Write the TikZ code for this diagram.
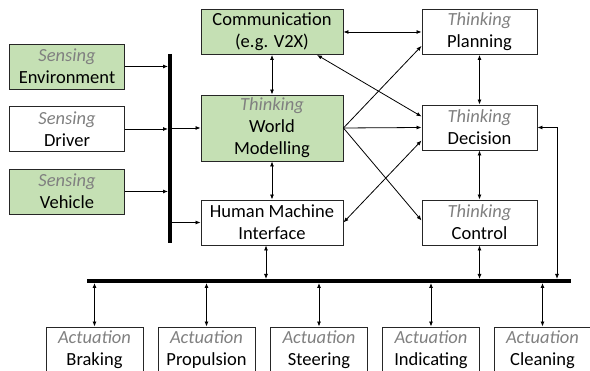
\documentclass[tikz,border=0pt]{standalone}
\usepackage{fontspec}
\setmainfont{Carlito}
\usetikzlibrary{arrows.meta,positioning}
\definecolor{boxgreen}{RGB}{197,224,180}
\definecolor{labelgray}{RGB}{128,128,128}
\newcommand{\kind}[1]{{\color{labelgray}\itshape #1}}
\tikzset{
  blk/.style={draw=black!85, line width=0.9pt, align=center, inner sep=0pt,
    font=\fontsize{18.5}{22}\selectfont},
  sens/.style={blk, minimum width=115pt, minimum height=45pt},
  wide/.style={blk, minimum width=142pt, minimum height=45pt},
  act/.style={blk, minimum width=97pt, minimum height=45pt},
  green/.style={fill=boxgreen},
  link/.style={line width=0.8pt, -{Latex[length=5pt,width=4pt]}},
  link2/.style={line width=0.8pt, {Latex[length=5pt,width=4pt]}-{Latex[length=5pt,width=4pt]}},
  bus/.style={line width=3.5pt}
}
\begin{document}
\begin{tikzpicture}[x=1pt,y=1pt]
    \useasboundingbox (0,0) rectangle (590,371);
    % Sensing
    \node[sens,green] (env) at (67,304.5) {\kind{Sensing}\\Environment};
    \node[sens] (drv) at (67,242) {\kind{Sensing}\\Driver};
    \node[sens,green] (veh) at (67,179.5) {\kind{Sensing}\\Vehicle};
    % Middle column
    \node[wide,green] (comm) at (272,339) {Communication\\(e.g. V2X)};
    \node[wide,green,minimum height=66pt] (wm) at (272,243) {\kind{Thinking}\\World\\Modelling};
    \node[wide] (hmi) at (272,148.5) {Human Machine\\Interface};
    % Thinking
    \node[sens] (plan) at (479.5,339) {\kind{Thinking}\\Planning};
    \node[sens] (dec) at (479.5,243.5) {\kind{Thinking}\\Decision};
    \node[sens] (ctrl) at (479.5,148.5) {\kind{Thinking}\\Control};
    % Actuation
    \node[act] (brk) at (94.5,21.5) {\kind{Actuation}\\Braking};
    \node[act] (prop) at (206.5,21.5) {\kind{Actuation}\\Propulsion};
    \node[act] (steer) at (319,21.5) {\kind{Actuation}\\Steering};
    \node[act] (ind) at (431,21.5) {\kind{Actuation}\\Indicating};
    \node[act] (clean) at (542.5,21.5) {\kind{Actuation}\\Cleaning};
    % Buses
    \coordinate (vbusT) at (170,317);
    \coordinate (vbusB) at (170,128);
    \coordinate (hbusL) at (87,90);
    \coordinate (hbusR) at (571,90);
    \coordinate (fb) at (557,90);
    \draw[bus] (vbusT) -- (vbusB);
    \draw[bus] (hbusL) -- (hbusR);
    % Sensing into bus
    \foreach \s in {env,drv,veh}
      \draw[link] (\s.east) -- ([xshift=-2pt]\s.east -| vbusT);
    \draw[link] ([xshift=2pt]wm.west -| vbusT) -- (wm.west);
    \draw[link] ([xshift=2pt]hmi.west -| vbusT) -- (hmi.west);
    % Middle links
    \draw[link2] (comm.south) -- (wm.north);
    \draw[link2] (wm.south) -- (hmi.north);
    \draw[link2] (comm.east) -- (plan.west);
    \draw[link2] ([xshift=45pt]comm.south) -- ([yshift=11pt]dec.west);
    \draw[link] (wm.east) -- ([yshift=9pt]plan.south west);
    \draw[link] (wm.east) -- (dec.west);
    \draw[link] (wm.east) -- ([yshift=2pt]ctrl.west);
    \draw[link2] (hmi.east) -- ([yshift=-13pt]dec.west);
    \draw[link2] (plan.south) -- (dec.north);
    \draw[link2] (dec.south) -- (ctrl.north);
    % Down to the actuation bus
    \draw[link2] ([xshift=-6pt]hmi.south) -- ([xshift=-6pt,yshift=2pt]hmi.south |- hbusL);
    \draw[link2] (ctrl.south) -- ([yshift=2pt]ctrl.south |- hbusL);
    \draw[link2] (dec.east) -| ([yshift=2pt]fb);
    \foreach \a in {brk,prop,steer,ind,clean}
      \draw[link2] ([yshift=-2pt]\a.north |- hbusL) -- (\a.north);
\end{tikzpicture}
\end{document}
